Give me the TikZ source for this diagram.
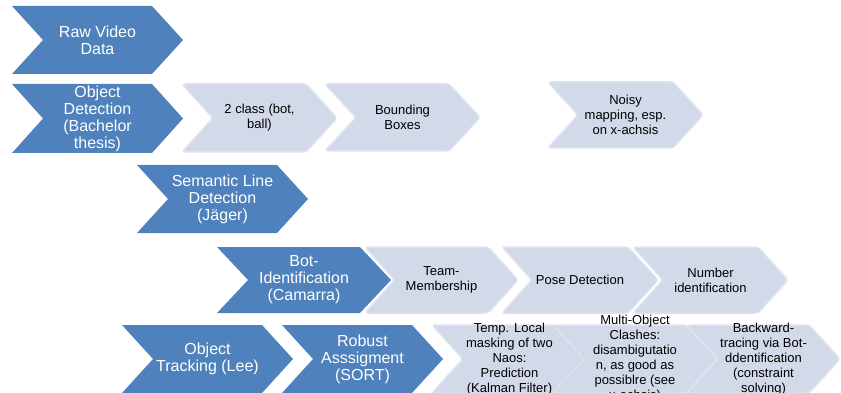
\documentclass[tikz,border=0pt]{standalone}
\usepackage{fontspec}
\setmainfont{Liberation Sans}
\definecolor{chevblue}{HTML}{4F81BD}
\definecolor{chevlight}{HTML}{D2D9E8}
\definecolor{chevlightedge}{HTML}{DCE2EE}
\tikzset{
  bluechev/.style={fill=chevblue, draw=none},
  bluechev text/.style={text=white, align=center, inner sep=0pt, font=\fontsize{16}{17}\selectfont},
  lightchev/.style={fill=chevlight, draw=chevlightedge, line width=1.5pt, rounded corners=3pt},
  lightchev text/.style={text=black, align=center, inner sep=0pt, font=\fontsize{13}{15}\selectfont},
}
% name, style, x, y(top), width, height, tip depth, text
\newcommand{\chevron}[8]{%
  \path[#2] (#3,#4) -- ++(#5-#7,0) -- ++(#7,#6/2) -- ++(-#7,#6/2) -- ++(-#5+#7,0) -- ++(#7,-#6/2) -- cycle;
  \node[#2 text] (#1) at ({#3+#5/2},{#4+#6/2}) {#8};
}
\begin{document}
\begin{tikzpicture}[x=1pt,y=-1pt]
\useasboundingbox (0,0) rectangle (841,393);
\clip (0,0) rectangle (841,393);
% light chevrons
\chevron{class}{lightchev}{182}{84}{155}{68}{31}{2 class (bot,\\ball)}
\chevron{bbox}{lightchev}{325}{84}{155}{67}{31}{Bounding\\Boxes}
\chevron{noisy}{lightchev}{548}{82}{155}{66}{30}{Noisy\\mapping, esp.\\on x-achsis}
\chevron{team}{lightchev}{365}{247}{153}{66}{30}{Team-\\Membership}
\chevron{pose}{lightchev}{502}{247}{156}{66}{30}{Pose Detection}
\chevron{number}{lightchev}{633}{247}{155}{66}{30}{Number\\identification}
\chevron{temp}{lightchev}{432}{325}{155}{68}{31}{Temp. Local\\masking of two\\Naos:\\Prediction\\(Kalman Filter)}
\chevron{multi}{lightchev}{553}{325}{164}{68}{31}{Multi-Object\\Clashes:\\disambigutatio\\n, as good as\\possiblre (see\\x-achsis)}
\chevron{backward}{lightchev}{687}{325}{153}{68}{31}{Backward-\\tracing via Bot-\\ddentification\\(constraint\\solving)}
% blue chevrons
\chevron{raw}{bluechev}{12}{6}{171}{68}{31}{Raw Video\\Data}
\chevron{objdet}{bluechev}{12}{84}{171}{69}{31}{Object\\Detection\\(Bachelor\\thesis)}
\chevron{semantic}{bluechev}{137}{165}{171}{68}{31}{Semantic Line\\Detection\\(Jäger)}
\chevron{botid}{bluechev}{217}{247}{174}{66}{31}{Bot-\\Identification\\(Camarra)}
\chevron{tracking}{bluechev}{122}{325}{171}{68}{31}{Object\\Tracking (Lee)}
\chevron{robust}{bluechev}{282}{325}{161}{68}{31}{Robust\\Asssigment\\(SORT)}
\end{tikzpicture}
\end{document}
